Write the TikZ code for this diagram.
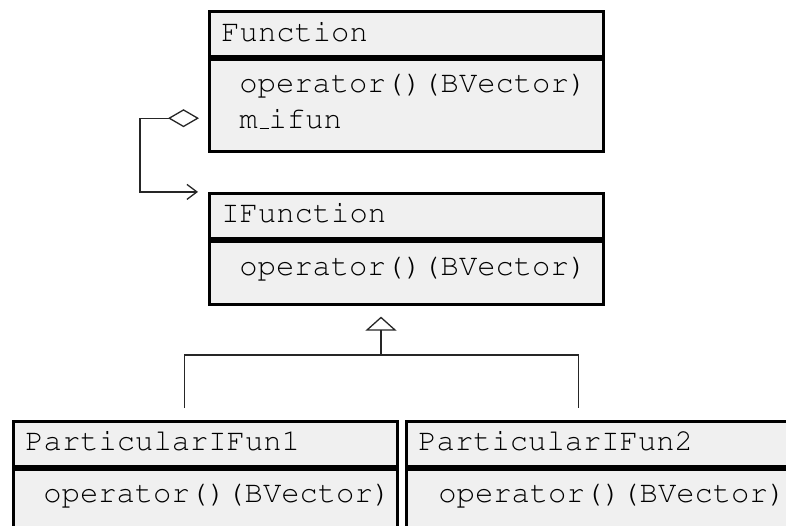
\documentclass[tikz,border=0pt]{standalone}
\usetikzlibrary{arrows.meta,positioning}
\definecolor{boxgray}{HTML}{F0F0F0}
\newcommand{\umlfont}{\fontencoding{OT1}\fontfamily{pcr}\fontseries{m}\fontshape{n}%
  \fontsize{30.5}{36}\selectfont}

\begin{document}
\begin{tikzpicture}[x=1pt,y=1pt,
  cls/.style={draw,line width=2.8pt,fill=boxgray,anchor=north west,align=left,inner ysep=0pt,
              font=\umlfont,text=black},
  hdr/.style={cls,inner xsep=12pt},
  bdy/.style={cls,inner xsep=30pt},
  conn/.style={line width=1.3pt,draw=black!85},
  aggr/.style={conn,{Diamond[open,length=31pt,width=18pt]}-{Straight Barb[length=10pt,width=15pt]}},
  inh/.style={conn,-{Triangle[open,length=14pt,width=31pt]}}]

  \useasboundingbox (0,0) rectangle (786,525);
  \clip (0,0) rectangle (786,525);

  % interface and its owner
  \node[hdr,text width=370pt,text height=30pt,text depth=15pt] (fun)   at (208,515)         {Function};
  \node[bdy,text width=334pt,text height=33pt,text depth=59pt] (funb)  at (fun.south west)  {operator()(BVector)\\m\_ifun};
  \node[hdr,text width=370pt,text height=29pt,text depth=16pt] (ifun)  at (208,333)         {IFunction};
  \node[bdy,text width=334pt,text height=34pt,text depth=29pt] (ifunb) at (ifun.south west) {operator()(BVector)};

  % concrete implementations
  \node[hdr,text width=360pt,text height=29pt,text depth=16pt] (pif1)  at (12,105)          {ParticularIFun1};
  \node[bdy,text width=324pt,text height=33pt,text depth=60pt] (pif1b) at (pif1.south west) {operator()(BVector)};
  \node[hdr,text width=396pt,text height=29pt,text depth=16pt] (pif2)  at (405,105)         {ParticularIFun2};
  \node[bdy,text width=356pt,text height=33pt,text depth=60pt,inner xsep=32pt] (pif2b) at (pif2.south west) {operator()(BVector)};

  \draw[aggr] ([shift={(-9pt,-13pt)}]funb.west) -- ++(-59pt,0pt) |- ([shift={(-10pt,24pt)}]ifun.west);

  \coordinate (split) at (381,170);
  \coordinate (sub1)  at ([xshift=-21pt,yshift=12pt]pif1.north);
  \coordinate (sub2)  at ([xshift=-38pt,yshift=12pt]pif2.north);
  \draw[inh] (split) -- ([yshift=-11pt]ifunb.south -| split);
  \draw[conn] (sub1) |- (split) -| (sub2);
\end{tikzpicture}
\end{document}
